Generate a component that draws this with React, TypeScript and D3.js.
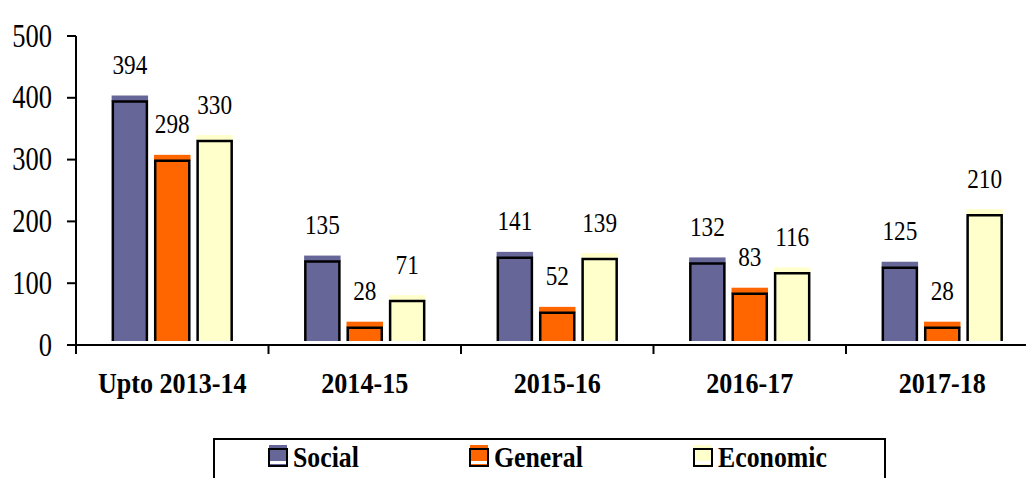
import React from 'react';
import * as d3 from 'd3';

const categories = ['Upto 2013-14', '2014-15', '2015-16', '2016-17', '2017-18'];
const seriesNames = ['Social', 'General', 'Economic'];
const socialValues = [394, 135, 141, 132, 125];
const generalValues = [298, 28, 52, 83, 28];
const economicValues = [330, 71, 139, 116, 210];
const yTicks = [0, 100, 200, 300, 400, 500];
const seriesColors = ['#666699', '#FF6600', '#FFFFCC'];

const WIDTH = 1026;
const HEIGHT = 478;
const FONT = 'Liberation Serif';
const legendX = [269, 470, 694];

function App() {
  const values = [socialValues, generalValues, economicValues];

  // outer band runs a bit past the right edge, like the original
  const x0 = d3.scaleBand().domain(categories).range([76, 1038.5]);
  const x1 = d3
    .scaleBand()
    .domain(seriesNames)
    .range([0, x0.bandwidth()])
    .paddingInner(0.14)
    .paddingOuter(0.84);
  const y = d3.scaleLinear().domain([0, 500]).range([345, 36]);
  const y0 = y(0);
  const w = x1.bandwidth();

  return (
    <svg
      width={WIDTH}
      height={HEIGHT}
      style={{ position: 'absolute', left: 0, top: 0, background: '#fff', fontFamily: FONT }}
    >
      {/* y axis */}
      <line x1={76} x2={76} y1={y(500)} y2={y0 + 9} stroke="#000" strokeWidth={2} />
      {yTicks.map((t) => (
        <g key={t}>
          <line x1={67} x2={76} y1={y(t)} y2={y(t)} stroke="#000" strokeWidth={2} />
          <text
            transform={`translate(52,${y(t) + 10.5}) scale(0.78,1)`}
            textAnchor="end"
            style={{ fontFamily: FONT, fontSize: '34px' }}
          >
            {t}
          </text>
        </g>
      ))}

      {/* x axis */}
      <line x1={67} x2={WIDTH} y1={y0} y2={y0} stroke="#000" strokeWidth={2} />
      {categories.map((c, i) => (
        <g key={c}>
          {i > 0 && <line x1={x0(c)} x2={x0(c)} y1={y0} y2={y0 + 9} stroke="#000" strokeWidth={2} />}
          <text
            transform={`translate(${x0(c)! + x0.bandwidth() / 2},393) scale(0.87,1)`}
            textAnchor="middle"
            style={{ fontFamily: FONT, fontSize: '30px', fontWeight: 'bold' }}
          >
            {c}
          </text>
        </g>
      ))}

      {/* bars */}
      {categories.map((c, i) =>
        seriesNames.map((s, j) => {
          const v = values[j][i];
          const bx = x0(c)! + x1(s)!;
          const top = y(v);
          return (
            <g key={c + s}>
              <rect x={bx} y={top - 6} width={w} height={6} fill={seriesColors[j]} />
              <rect x={bx + 1} y={top} width={w - 2} height={y0 - 4 - top} fill={seriesColors[j]} />
              <path
                d={`M${bx + 1.2},${y0 - 4}V${top}H${bx + w - 1.2}V${y0 - 4}`}
                fill="none"
                stroke="#000"
                strokeWidth={2.5}
              />
              <text
                transform={`translate(${bx + w / 2},${top - 27.5}) scale(0.83,1)`}
                textAnchor="middle"
                style={{ fontFamily: FONT, fontSize: '28px' }}
              >
                {v}
              </text>
            </g>
          );
        })
      )}

      {/* legend */}
      <rect x={214} y={439} width={671} height={60} fill="none" stroke="#000" strokeWidth={2} />
      {seriesNames.map((s, j) => {
        const lx = legendX[j];
        return (
          <g key={s}>
            <rect x={lx} y={445} width={18} height={4} fill={seriesColors[j]} />
            <rect x={lx} y={449} width={18} height={17} fill={seriesColors[j]} stroke="#000" strokeWidth={2} />
            <rect x={lx + 1} y={461} width={16} height={3} fill="#fff" />
            <text
              transform={`translate(${lx + 24},466.5) scale(0.86,1)`}
              style={{ fontFamily: FONT, fontSize: '30px', fontWeight: 'bold' }}
            >
              {s}
            </text>
          </g>
        );
      })}
    </svg>
  );
}

export default App;
